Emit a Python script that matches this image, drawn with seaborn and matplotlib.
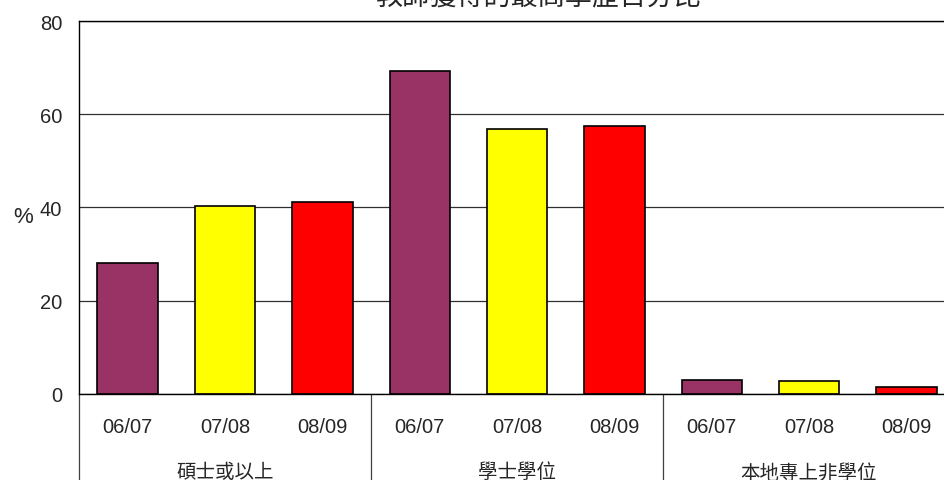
import numpy as np
import pandas as pd
import matplotlib
matplotlib.use('Agg')
import matplotlib.pyplot as plt
import seaborn as sns

# data
groups = ['碩士或以上', '學士學位', '本地專上非學位']
years = ['06/07', '07/08', '08/09']
master = [28.0, 40.4, 41.1]
degree = [69.3, 56.8, 57.6]
subdegree = [2.9, 2.8, 1.4]
title = '教師獲得的最高學歷百分比'

colors = {'06/07': '#993366', '07/08': '#FFFF00', '08/09': '#FF0000'}

sns.set_style('white')
plt.rcParams['font.family'] = ['Liberation Sans', 'Noto Sans CJK TC']

rows = []
for g, vals in zip(groups, [master, degree, subdegree]):
    for y, v in zip(years, vals):
        rows.append({'slot': g + ' ' + y, 'year': y, 'value': v})
df = pd.DataFrame(rows)

fig = plt.figure(figsize=(9.45, 4.81), dpi=100)
ax = fig.add_axes([0.0836, 0.1794, 0.927, 0.7744])

sns.barplot(data=df, x='slot', y='value', hue='year', dodge=False,
            palette=colors, saturation=1, width=0.62, edgecolor='black',
            linewidth=1.2, legend=False, ax=ax)

ax.set_ylim(0, 80)
ax.set_xlim(-0.5, len(df) - 0.5)
ax.set_yticks([0, 20, 40, 60, 80])
ax.yaxis.grid(True, color='#303030', linewidth=0.9)
ax.set_axisbelow(True)
for s in ax.spines.values():
    s.set_color('black')
    s.set_linewidth(1.0)

ax.set_xticks(range(len(df)))
ax.set_xticklabels(years * len(groups), fontsize=14.5)
ax.tick_params(axis='x', length=0, pad=17)
ax.tick_params(axis='y', length=0, pad=12, labelsize=14.5)
ax.set_xlabel('')
ax.set_ylabel('%', rotation=0, fontsize=16, va='center', ha='center')
ax.yaxis.set_label_coords(-0.064, 0.475)

# group separators and group names under the axis
trans = ax.get_xaxis_transform()
for k in range(len(groups)):
    x0 = k * len(years) - 0.5
    ax.plot([x0, x0], [0, -0.35], transform=trans, color='#404040',
            linewidth=0.9, clip_on=False)
    ax.text(k * len(years) + 1, -0.21, groups[k], transform=trans,
            ha='center', va='center', fontsize=14)

fig.text(0.569, 0.9915, title, ha='center', va='baseline', fontsize=19.5)

fig.savefig('out.png', dpi=100)
